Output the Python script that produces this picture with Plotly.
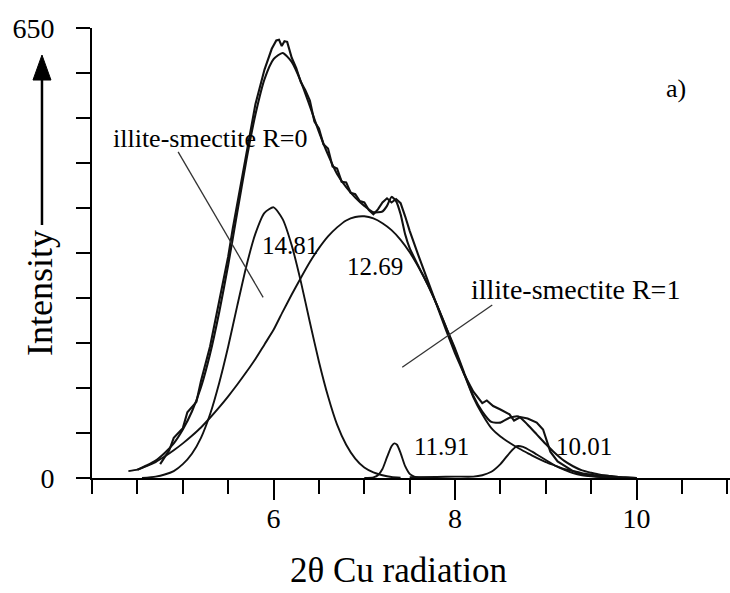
import plotly.graph_objects as go

# ---------------- data ----------------
# measured pattern (noisy trace)
obs_x = [4.75, 4.85, 4.9, 5.0, 5.05, 5.15, 5.2, 5.3, 5.4, 5.5, 5.55, 5.6, 5.7, 5.8, 5.9, 5.98,
         6.03, 6.06, 6.09, 6.12, 6.15, 6.2, 6.25, 6.3, 6.35, 6.4, 6.45, 6.5, 6.55, 6.6, 6.65,
         6.7, 6.75, 6.8, 6.85, 6.9, 6.95, 7.0, 7.05, 7.1, 7.15, 7.2, 7.25, 7.3, 7.35, 7.4, 7.45,
         7.5, 7.6, 7.7, 7.8, 7.9, 8.0, 8.1, 8.2, 8.3, 8.35, 8.42, 8.5, 8.6, 8.65, 8.72, 8.8,
         8.9, 8.97, 9.05, 9.13, 9.2, 9.3, 9.4, 9.5, 9.6, 9.7, 9.8, 10.0]
obs_y = [20, 40, 58, 72, 95, 110, 140, 190, 255, 320, 360, 395, 470, 540, 590, 620,
         632, 633, 624, 631, 630, 607, 592, 572, 560, 545, 515, 505, 482, 476, 450,
         447, 428, 427, 412, 410, 400, 398, 387, 381, 388, 398, 404, 398, 403, 397, 378,
         357, 320, 284, 248, 214, 180, 150, 125, 108, 112, 104, 99, 92, 83, 88, 86,
         80, 70, 38, 24, 18, 10, 5, 3, 2, 1, 0.5, 0]

# fitted sum of the components
sum_x = [4.5, 4.6, 4.7, 4.8, 4.9, 5.0, 5.1, 5.2, 5.3, 5.4, 5.5, 5.6, 5.7, 5.8, 5.9, 6.0,
         6.1, 6.2, 6.3, 6.4, 6.5, 6.6, 6.7, 6.8, 6.9, 7.0, 7.1, 7.2, 7.25, 7.3, 7.35, 7.4,
         7.45, 7.5, 7.6, 7.7, 7.8, 7.9, 8.0, 8.1, 8.2, 8.3, 8.4, 8.5, 8.6, 8.7, 8.8, 8.9,
         9.0, 9.1, 9.2, 9.3, 9.4, 9.5, 9.6, 9.7, 9.8, 9.9, 10.0]
sum_y = [12, 18, 25, 36, 50, 70, 96, 131, 179, 239, 308, 384, 459, 525, 576, 605,
         614, 601, 573, 537, 500, 467, 439, 420, 405, 393, 384, 385, 393, 406, 400, 381,
         352, 332, 305, 279, 250, 218, 187, 152, 119, 96, 81, 80, 87, 89, 77, 63,
         49, 36, 25, 17, 11, 7.5, 4.5, 3, 1.5, 0.5, 0]

# component 14.81 A (illite-smectite R=0)
c1481_x = [4.55, 4.7, 4.8, 4.9, 5.0, 5.1, 5.2, 5.3, 5.4, 5.5, 5.6, 5.7, 5.8, 5.9, 6.0,
           6.1, 6.2, 6.3, 6.4, 6.5, 6.6, 6.7, 6.8, 6.9, 7.0, 7.1, 7.2, 7.3, 7.4]
c1481_y = [0, 2, 5, 10, 20, 35, 58, 92, 137, 190, 249, 306, 353, 383, 391,
           374, 336, 284, 225, 168, 118, 77, 48, 28, 15, 8, 4, 1.5, 0.5]

# component 12.69 A (illite-smectite R=1)
c1269_x = [4.4, 4.5, 4.6, 4.7, 4.8, 4.9, 5.0, 5.1, 5.2, 5.3, 5.4, 5.5, 5.6, 5.7, 5.8, 5.9,
           6.0, 6.1, 6.2, 6.3, 6.4, 6.5, 6.6, 6.7, 6.8, 6.9, 7.0, 7.1, 7.2, 7.3, 7.4, 7.5,
           7.6, 7.7, 7.8, 7.9, 8.0, 8.1, 8.2, 8.3, 8.4, 8.5, 8.6, 8.7, 8.8, 8.9, 9.0, 9.1,
           9.2, 9.3, 9.4, 9.5, 9.6, 9.7, 9.8, 9.9, 10.0]
c1269_y = [10, 12, 17, 23, 31, 40, 50, 61, 73, 87, 102, 118, 135, 153, 172, 193,
           214, 240, 265, 289, 312, 332, 349, 362, 372, 377, 378, 375, 368, 358, 344, 326,
           304, 279, 250, 218, 185, 150, 117, 92, 72, 60, 51, 43, 36, 29, 23, 18,
           13, 10, 7, 5, 3, 2, 1, 0.5, 0]

# component 11.91 A
c1191_x = [7.0, 7.1, 7.15, 7.2, 7.25, 7.3, 7.33, 7.36, 7.4, 7.45, 7.5, 7.55, 7.6, 7.8]
c1191_y = [0, 1, 4, 13, 30, 46, 50, 48, 36, 17, 6, 2, 0.5, 0]

# component 10.01 A
c1001_x = [7.5, 7.8, 8.0, 8.2, 8.3, 8.4, 8.5, 8.6, 8.68, 8.75, 8.85, 8.9, 9.0, 9.1,
           9.2, 9.3, 9.4, 9.5, 9.6, 9.8, 10.0]
c1001_y = [1, 1.5, 2, 2, 4, 9, 20, 36, 46, 45, 38, 34, 26, 18,
           12, 7, 4, 2.5, 1.5, 0.5, 0]

# axis ticks
x_major = [6, 8, 10]
x_major_text = ["6", "8", "10"]
x_minor = [4, 4.5, 5, 5.5, 6.5, 7, 7.5, 8.5, 9, 9.5, 10.5, 11]
y_ticks = [0, 65, 130, 195, 260, 325, 390, 455, 520, 585, 650]
y_tick_text = ["0", "", "", "", "", "", "", "", "", "", "650"]

# ---------------- figure ----------------
SERIF = "Liberation Serif, Times New Roman, serif"
fig = go.Figure()

def add_line(xs, ys, width, shape):
    fig.add_trace(go.Scatter(x=xs, y=ys, mode="lines",
                             line=dict(color="#111111", width=width, shape=shape,
                                       smoothing=0.6 if shape == "spline" else None),
                             hoverinfo="skip", showlegend=False))

add_line(c1269_x, c1269_y, 1.9, "spline")
add_line(c1481_x, c1481_y, 1.9, "spline")
add_line(c1191_x, c1191_y, 1.9, "spline")
add_line(c1001_x, c1001_y, 1.9, "spline")
add_line(sum_x, sum_y, 2.1, "spline")
add_line(obs_x, obs_y, 2.1, "linear")

fig.update_layout(
    width=730, height=593,
    margin=dict(l=92, r=0, t=28, b=115),
    paper_bgcolor="white", plot_bgcolor="white",
    showlegend=False,
    font=dict(family=SERIF, color="black"),
)

fig.update_xaxes(
    range=[3.999, 11.03], showline=True, linecolor="black", linewidth=2,
    showgrid=False, zeroline=False,
    ticks="outside", tickmode="array", tickvals=x_major, ticktext=x_major_text,
    ticklen=20, tickwidth=2, tickcolor="black", ticklabelstandoff=-6,
    tickfont=dict(family=SERIF, size=28, color="black"),
    minor=dict(tickmode="array", tickvals=x_minor, ticks="outside", ticklen=14,
               tickwidth=2, tickcolor="black", showgrid=False),
)
fig.update_yaxes(
    range=[-0.01, 650.01], showline=True, linecolor="black", linewidth=2,
    showgrid=False, zeroline=False,
    ticks="outside", tickmode="array", tickvals=y_ticks, ticktext=y_tick_text,
    ticklen=14, tickwidth=2, tickcolor="black", ticklabelstandoff=16,
    tickfont=dict(family=SERIF, size=28, color="black"),
)

# text labels inside the plot
labels = [
    ("illite-smectite R=0", 5.30, 491, 26),
    ("14.81", 6.18, 336, 25),
    ("12.69", 7.12, 305, 25),
    ("illite-smectite R=1", 9.33, 273, 28),
    ("11.91", 7.85, 45, 25),
    ("10.01", 9.42, 45, 25),
    ("a)", 10.43, 563, 26),
]
for txt, lx, ly, fs in labels:
    fig.add_annotation(x=lx, y=ly, xref="x", yref="y", text=txt, showarrow=False,
                       font=dict(family=SERIF, size=fs, color="black"),
                       xanchor="center", yanchor="middle")

# leader lines
fig.add_shape(type="line", xref="x", yref="y", x0=4.948, y0=471, x1=5.885, y1=261,
              line=dict(color="#333333", width=1.3))
fig.add_shape(type="line", xref="x", yref="y", x0=8.41, y0=250, x1=7.418, y1=160,
              line=dict(color="#333333", width=1.3))

# axis titles
fig.add_annotation(x=0.48, y=-0.2533, xref="paper", yref="paper", text="2θ Cu radiation",
                   showarrow=False, font=dict(family=SERIF, size=35, color="black"),
                   xanchor="center", yanchor="bottom")
fig.add_annotation(x=-0.0815, y=0.411, xref="paper", yref="paper", text="Intensity",
                   textangle=-90, showarrow=False,
                   font=dict(family=SERIF, size=36, color="black"),
                   xanchor="center", yanchor="middle")

# arrow beside the y title
fig.add_shape(type="line", xref="paper", yref="paper", x0=-0.0784, y0=0.5622,
              x1=-0.0784, y1=0.89, line=dict(color="black", width=2.5))
fig.add_shape(type="path", xref="paper", yref="paper",
              path="M -0.0925,0.8844 L -0.0784,0.94 L -0.0643,0.8844 Z",
              fillcolor="black", line=dict(color="black", width=1))

fig.write_html("out.html")
